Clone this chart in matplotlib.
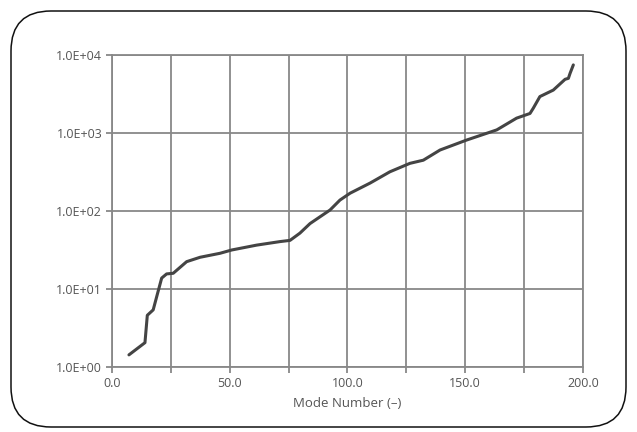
import numpy as np
import matplotlib
matplotlib.use("Agg")
import matplotlib.pyplot as plt
from matplotlib.patches import FancyBboxPatch
from matplotlib.ticker import FixedLocator, FuncFormatter

# curve
mode_number = [7.2, 14.0, 15.0, 17.5, 19.0, 21.1, 23.2, 26.0, 31.7, 37.4, 45.9, 50.8,
               61.4, 71.3, 75.6, 79.8, 84.1, 92.6, 96.8, 101.1, 109.6, 118.0, 126.5,
               132.2, 139.3, 150.6, 163.4, 171.8, 177.5, 178.9, 181.7, 187.4, 192.4,
               193.8, 194.5, 195.9]
value = [1.43, 2.05, 4.6, 5.4, 8.0, 13.8, 15.6, 15.9, 22.4, 25.5, 28.7, 31.6,
         36.5, 40.5, 42.0, 52.0, 69.0, 103.0, 138.0, 169.0, 228.0, 318.0, 408.0,
         448.0, 605.0, 812.0, 1096.0, 1550.0, 1780.0, 2080.0, 2930.0, 3550.0, 4880.0,
         5020.0, 5800.0, 7460.0]

x_ticks = [0, 50, 100, 150, 200]
x_grid = [0, 25, 50, 75, 100, 125, 150, 175, 200]
y_ticks = [1, 10, 100, 1000, 10000]
y_labels = ["1.0E+00", "1.0E+01", "1.0E+02", "1.0E+03", "1.0E+04"]

plt.rcParams['font.family'] = ['Open Sans', 'DejaVu Sans']

fig = plt.figure(figsize=(6.37, 4.32), dpi=100, facecolor='w')

# rounded outer frame
box = FancyBboxPatch((0.11, 0.05), 6.15, 4.16, boxstyle="round,pad=0,rounding_size=0.4",
                     transform=fig.dpi_scale_trans, fill=False, edgecolor='#111111', lw=1.1)
fig.patches.append(box)

ax = fig.add_axes([0.1758, 0.1505, 0.7394, 0.7222])
ax.plot(mode_number, value, color='#444444', lw=2.2, solid_capstyle='round', zorder=3)

ax.set_yscale('log')
ax.set_xlim(0, 200)
ax.set_ylim(1, 10000)

ax.xaxis.set_major_locator(FixedLocator(x_grid))
ax.xaxis.set_major_formatter(FuncFormatter(lambda v, p: "%.1f" % v if v in x_ticks else ""))
ax.yaxis.set_major_locator(FixedLocator(y_ticks))
ax.yaxis.set_minor_locator(FixedLocator([]))
ax.set_yticklabels(y_labels)

ax.grid(True, color='#888888', lw=1.3)
for s in ax.spines.values():
    s.set_color('#888888')
    s.set_linewidth(1.3)
ax.tick_params(axis='both', colors='#888888', labelcolor='#555555', labelsize=9,
               length=4, width=1.3, pad=3)
ax.tick_params(axis='x', pad=3)

ax.set_xlabel("Mode Number (\u2013)", fontsize=9.5, color='#555555', labelpad=5)

fig.savefig("out.png", dpi=100)
